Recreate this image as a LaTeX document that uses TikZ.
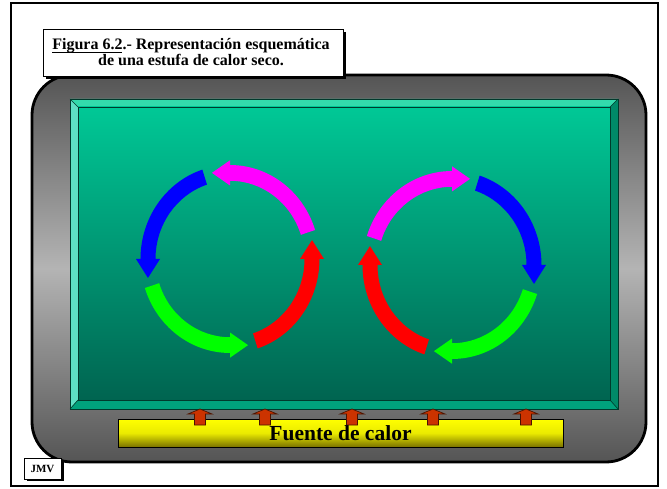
\documentclass[tikz,border=0pt]{standalone}
\usepackage{fontspec}
\setmainfont{Liberation Serif}
\definecolor{grayedge}{HTML}{555555}
\definecolor{graymid}{HTML}{B4B4B4}
\definecolor{facetop}{HTML}{00C896}
\definecolor{facebot}{HTML}{006450}
\definecolor{bevleft}{HTML}{5EE0C4}
\definecolor{bevtop}{HTML}{33DBAC}
\definecolor{bevright}{HTML}{008A68}
\definecolor{bevbot}{HTML}{00A27C}
\definecolor{bevline}{HTML}{003A2C}
\definecolor{heatred}{HTML}{CC3300}
\definecolor{heatline}{HTML}{4A1400}
\definecolor{oliveb}{HTML}{7A7200}
\definecolor{flowmag}{HTML}{FF00FF}
\definecolor{flowblue}{HTML}{0000FF}
\definecolor{flowgreen}{HTML}{00FF00}
\definecolor{flowred}{HTML}{FF0000}
\newcommand\myul[1]{\leavevmode\setbox0\hbox{#1}\rlap{\rule[-2.6pt]{\wd0}{0.9pt}}\box0}
\newcommand\ccwarc[4]{%
  \begin{scope}[shift={#1}, yscale=1.05]
    \fill[#4] (#2:89.5) arc[start angle=#2, end angle=#3, radius=89.5] -- (#3:94)
      -- (#3+12.4:84) -- (#3:70) -- (#3:74.5)
      arc[start angle=#3, end angle=#2, radius=74.5] -- cycle;
  \end{scope}}
\newcommand\cwarc[4]{%
  \begin{scope}[shift={#1}, yscale=1.05]
    \fill[#4] (#2:89.5) arc[start angle=#2, end angle=#3, radius=89.5] -- (#3:94)
      -- (#3-12.4:84) -- (#3:70) -- (#3:74.5)
      arc[start angle=#3, end angle=#2, radius=74.5] -- cycle;
  \end{scope}}
\newcommand\heatarrow[1]{%
  \draw[heatred arrow] (#1-5.5,63) -- (#1-5.5,74) -- (#1-12,74) -- (#1,79)
    -- (#1+12,74) -- (#1+5.5,74) -- (#1+5.5,63) -- cycle;}
\begin{document}
\begin{tikzpicture}[x=1pt,y=1pt,
  heatred arrow/.style={fill=heatred, draw=heatline, line width=0.7pt, line join=miter},
  bevel/.style={draw=bevline, line width=0.6pt, line join=miter},
  titlefont/.style={font=\fontsize{16}{15.5}\selectfont\bfseries},
  shadowbox/.style={fill=white, draw=black, line width=0.8pt}]
\useasboundingbox (0,0) rectangle (667,488);
\fill[white] (0,0) rectangle (667,488);
% outer frame
\draw[line width=1.6pt] (11,2) rectangle (658,485);
% gray rounded body
\path[draw=black, line width=2.8pt, rounded corners=40pt,
  top color=grayedge, bottom color=grayedge, middle color=graymid]
  (32,26) rectangle (646,413);
% bevelled green panel
\fill[bevtop] (70,389) -- (618,389) -- (610,381) -- (78,381) -- cycle;
\fill[bevleft] (70,389) -- (78,381) -- (78,88) -- (70,79) -- cycle;
\fill[bevright] (618,389) -- (618,79) -- (610,88) -- (610,381) -- cycle;
\fill[bevbot] (70,79) -- (618,79) -- (610,88) -- (78,88) -- cycle;
\shade[top color=facetop, bottom color=facebot] (78,88) rectangle (610,381);
\draw[bevel] (70,79) rectangle (618,389);
\draw[bevel] (78,88) rectangle (610,381);
\draw[bevel] (70,389) -- (78,381) (618,389) -- (610,381) (618,79) -- (610,88) (70,79) -- (78,88);
% left circulation
\ccwarc{(230,229)}{18}{90}{flowmag}
\ccwarc{(230,229)}{108}{180}{flowblue}
\ccwarc{(230,229)}{198}{270}{flowgreen}
\ccwarc{(230,229)}{288}{360}{flowred}
% right circulation
\cwarc{(452,223)}{162}{90}{flowmag}
\cwarc{(452,223)}{72}{0}{flowblue}
\cwarc{(452,223)}{-18}{-90}{flowgreen}
\cwarc{(452,223)}{-108}{-180}{flowred}
% heat source
\path[draw=black, line width=0.8pt, top color=yellow, bottom color=oliveb, middle color=yellow!92!black]
  (118,41) rectangle (563,69);
\heatarrow{200}
\heatarrow{265}
\heatarrow{352}
\heatarrow{433}
\heatarrow{526}
\node[anchor=base, inner sep=0pt, font=\fontsize{21.5}{24}\selectfont\bfseries] (fuente) at (340.5,48) {Fuente de calor};
% title box
\fill[black] (46,409) rectangle (346,456);
\draw[shadowbox] (43,412) rectangle (343,459);
\node[anchor=base, inner sep=0pt, titlefont] (title1) at (191,438) {\myul{Figura 6.2}.- Representación esquemática};
\node[anchor=base, inner sep=0pt, titlefont] (title2) at (191,422.3) {de una estufa de calor seco.};
% JMV box
\fill[black] (26.5,7) rectangle (63.5,28);
\draw[shadowbox] (24,9) rectangle (61,30);
\node[inner sep=0pt, font=\fontsize{11}{12}\selectfont\bfseries] (jmv) at (42.5,19.5) {JMV};
\end{tikzpicture}
\end{document}
